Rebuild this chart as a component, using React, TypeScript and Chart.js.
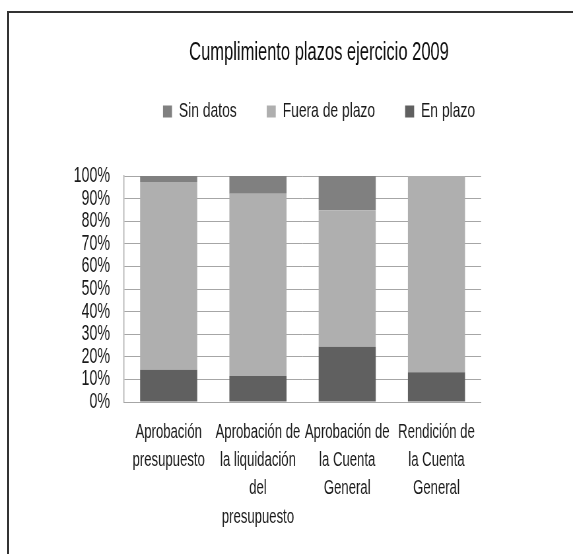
import { useEffect, useRef } from 'react';
import { Chart, registerables } from 'chart.js';

Chart.register(...registerables);

const chartTitle = 'Cumplimiento plazos ejercicio 2009';
const categories: string[][] = [
  ['Aprobación', 'presupuesto'],
  ['Aprobación de', 'la liquidación', 'del', 'presupuesto'],
  ['Aprobación de', 'la Cuenta', 'General'],
  ['Rendición de', 'la Cuenta', 'General'],
];
const seriesNames = ['En plazo', 'Fuera de plazo', 'Sin datos'];
const enPlazo = [14.3, 11.5, 24.4, 13.2];
const fueraDePlazo = [83.1, 80.7, 60.5, 86.8];
const sinDatos = [2.6, 7.8, 15.1, 0];
const seriesColors = ['#606060', '#afafaf', '#808080'];

const FONT = "'Liberation Sans', Arial, sans-serif";

// The original picture is horizontally condensed: the chart is laid out on a
// wider canvas and displayed at the page width.
const CSS_W = 573;
const CSS_H = 554;
const SQUEEZE = 0.66;
const INT_W = Math.round(CSS_W / SQUEEZE);
const hx = (v: number) => v / SQUEEZE; // page px (horizontal) -> canvas px

const legendSpacer = {
  id: 'legendSpacer',
  beforeInit(chart: any) {
    const legend = chart.legend;
    if (!legend) return;
    const orig = legend.fit;
    legend.fit = function () {
      orig.call(this);
      this.height += 44;
    };
  },
};

export default function App() {
  const ref = useRef<HTMLCanvasElement | null>(null);

  useEffect(() => {
    if (!ref.current) return;
    const padLeft = hx(65);
    const plotLeft = hx(124);
    const plotRight = hx(481);
    const chart = new Chart(ref.current, {
      type: 'bar',
      data: {
        labels: categories,
        datasets: [
          { label: seriesNames[0], data: enPlazo, backgroundColor: seriesColors[0] },
          { label: seriesNames[1], data: fueraDePlazo, backgroundColor: seriesColors[1] },
          { label: seriesNames[2], data: sinDatos, backgroundColor: seriesColors[2] },
        ],
      },
      options: {
        animation: false,
        responsive: false,
        devicePixelRatio: 1,
        events: [],
        layout: { padding: { left: padLeft, top: 0, right: 0, bottom: 0 } },
        datasets: { bar: { barPercentage: 0.64, categoryPercentage: 1 } },
        plugins: {
          tooltip: { enabled: false },
          title: {
            display: true,
            text: chartTitle,
            color: '#0d0d0d',
            font: { family: FONT, size: 25, weight: 'normal', lineHeight: 0.3 },
            padding: { top: 49.25, bottom: -1.15 },
          },
          legend: {
            display: true,
            reverse: true,
            labels: {
              color: '#1a1a1a',
              font: { family: FONT, size: 21 },
              boxWidth: hx(9),
              boxHeight: 12,
              padding: hx(30),
            },
          },
        },
        scales: {
          x: {
            stacked: true,
            grid: { display: false, drawTicks: false },
            border: { display: true, color: '#a6a6a6', width: 1 },
            ticks: {
              color: '#1a1a1a',
              font: { family: FONT, size: 19.9, lineHeight: '28.3px' },
              padding: 16,
              maxRotation: 0,
              autoSkip: false,
            },
            afterFit: (s: any) => {
              s.height = 152;
            },
          },
          y: {
            stacked: true,
            min: 0,
            max: 100,
            grid: { color: '#a6a6a6', lineWidth: 1, drawTicks: false },
            border: { display: true, color: '#a6a6a6', width: 1.4 },
            ticks: {
              stepSize: 10,
              autoSkip: false,
              color: '#1a1a1a',
              font: { family: FONT, size: 21.6, lineHeight: 1.0 },
              padding: hx(14),
              callback: (v: any) => v + '%',
            },
            afterFit: (s: any) => {
              s.width = plotLeft - padLeft;
            },
          },
          y2: {
            position: 'right',
            display: true,
            grid: { drawOnChartArea: false, drawTicks: false },
            border: { display: false },
            ticks: { display: false },
            afterFit: (s: any) => {
              s.width = INT_W - plotRight;
            },
          },
        },
      },
      plugins: [legendSpacer],
    } as any);
    return () => chart.destroy();
  }, []);

  return (
    <div>
      <div
        style={{
          position: 'fixed',
          left: 7,
          top: 11,
          width: 700,
          height: 700,
          borderTop: '2px solid #333',
          borderLeft: '2px solid #333',
          boxSizing: 'border-box',
        }}
      />
      <canvas
        ref={ref}
        width={INT_W}
        height={CSS_H}
        style={{ position: 'fixed', left: 0, top: 0, width: CSS_W, height: CSS_H, display: 'block' }}
      />
    </div>
  );
}
